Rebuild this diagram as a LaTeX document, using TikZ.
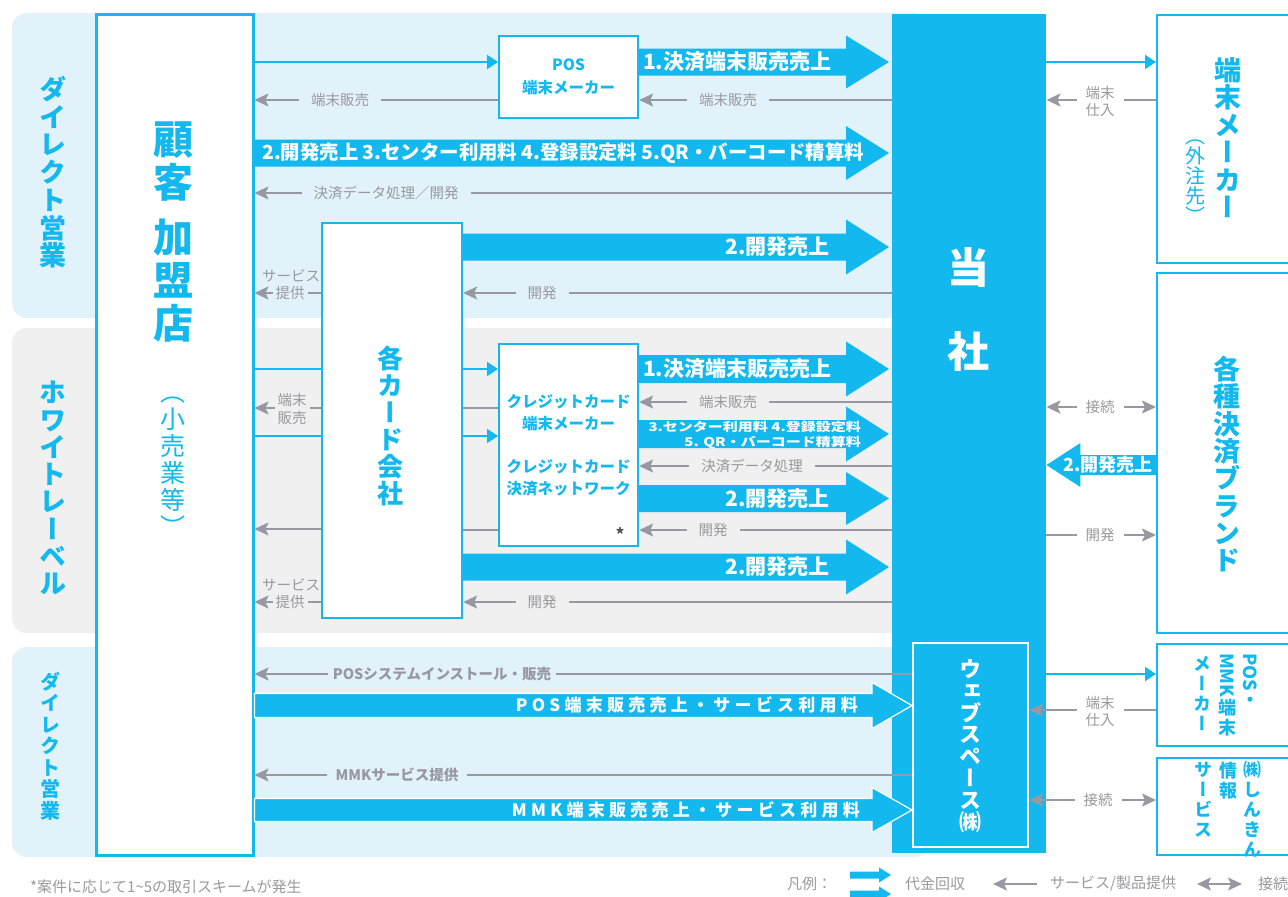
\documentclass[tikz,border=0pt]{standalone}
\usepackage{fontspec}
\setmainfont{Noto Sans CJK JP}
\newfontfamily\vjp[RawFeature=+vert]{Noto Sans CJK JP}
\usetikzlibrary{arrows.meta,calc}
\definecolor{cblue}{RGB}{18,184,238}
\definecolor{bandblue}{RGB}{226,242,250}
\definecolor{bandgray}{RGB}{240,240,240}
\definecolor{lgray}{RGB}{152,152,162}
\definecolor{tgray}{RGB}{152,152,160}
\definecolor{dgray}{RGB}{80,80,85}
\newcommand\fatarrow[6][]{%
  \path[fill=cblue,#1] let \p1=#2, \p2=#3, \n1={\x2-sign(\x2-\x1)*#6} in
    ({\x1},{\y1+#4}) -- (\n1,{\y1+#4}) -- (\n1,{\y1+#5}) -- ({\x2},{\y1})
    -- (\n1,{\y1-#5}) -- (\n1,{\y1-#4}) -- ({\x1},{\y1-#4}) -- cycle;}
\begin{document}
\begin{tikzpicture}[x=1pt,y=-1pt,
  box/.style={draw=cblue,line width=2.2pt,fill=white,anchor=north west,inner sep=0pt},
  tarrow/.style={draw=cblue,line width=2.2pt,-{Triangle[length=11pt,width=14pt]}},
  tline/.style={draw=cblue,line width=2.2pt},
  garrow/.style={draw=lgray,line width=2pt,-{Stealth[length=14pt,width=13pt,inset=3pt]}},
  gdouble/.style={draw=lgray,line width=2pt,{Stealth[length=14pt,width=13pt,inset=3pt]}-{Stealth[length=14pt,width=13pt,inset=3pt]}},
  gline/.style={draw=lgray,line width=2pt},
  glab/.style={text=tgray,font=\fontsize{14.5}{17}\selectfont,inner xsep=12pt,inner ysep=1pt,align=center},
  ftxt/.style={text=white,font=\bfseries\fontsize{21}{21}\selectfont,inner sep=0pt},
  vt/.style={text=cblue,align=center,inner sep=0pt,anchor=north},
  legtxt/.style={text=tgray,font=\fontsize{15}{15}\selectfont,inner sep=0pt,anchor=west},
]
\useasboundingbox (0,0) rectangle (1288,897);
\clip (0,0) rectangle (1288,897);
% bands
\fill[bandblue,rounded corners=15pt] (12,13) rectangle (930,318);
\fill[bandgray,rounded corners=15pt] (12,328) rectangle (930,633);
\fill[bandblue,rounded corners=15pt] (12,647) rectangle (930,857);
% main column
\node[fill=cblue,anchor=north west,minimum width=154pt,minimum height=839pt,inner sep=0pt] (tosha) at (892,14) {};
\node[draw=white,line width=2pt,fill=cblue,anchor=north west,minimum width=115pt,minimum height=204pt,inner sep=0pt] (web) at (912,642) {};
% right boxes
\node[box,minimum width=150pt,minimum height=248pt] (tm) at (1156,14) {};
\node[box,minimum width=150pt,minimum height=360pt] (brand) at (1156,272) {};
\node[box,minimum width=150pt,minimum height=102pt] (posmmk) at (1156,643) {};
\node[box,minimum width=150pt,minimum height=97pt] (shinkin) at (1156,757) {};
% left boxes
\node[box,line width=2.5pt,minimum width=157pt,minimum height=841pt] (kyaku) at (95,13) {};
\node[box,minimum width=139pt,minimum height=82pt,align=center,text=cblue,font=\bfseries\fontsize{15.5}{23}\selectfont] (posbox) at (498,35) {POS\\端末メーカー};
\node[box,minimum width=140pt,minimum height=395pt] (card) at (321,222) {};
\node[box,minimum width=139pt,minimum height=202pt,align=center,text=cblue,font=\bfseries\fontsize{15.5}{22}\selectfont] (cc) at (498,343) {クレジットカード\\端末メーカー\\[21pt]クレジットカード\\決済ネットワーク};
\node[text=dgray,font=\bfseries\fontsize{16}{16}\selectfont,inner sep=0pt] (ast) at (620,534) {*};

% ---------- top band
\draw[tarrow] (kyaku.east|-0,62) -- (posbox.west|-0,62);
\fatarrow{(posbox.east|-0,62)}{($(tosha.west|-0,62)+(-3,0)$)}{13.5pt}{26.5pt}{43pt}
\node[ftxt,anchor=west] (f1t) at (643,62) {1.決済端末販売売上};
\draw[garrow] (tosha.west|-0,100) -- (posbox.east|-0,100);
\node[glab,fill=bandblue] (l1) at (728,100) {端末販売};
\draw[garrow] (posbox.west|-0,100) -- (kyaku.east|-0,100);
\node[glab,fill=bandblue] (l2) at (340,100) {端末販売};
\fatarrow{(kyaku.east|-0,153)}{($(tosha.west|-0,153)+(-3,0)$)}{13.5pt}{27pt}{43pt}
\node[ftxt,font=\bfseries\fontsize{19.4}{20}\selectfont,anchor=west] (f2t) at (262,153) {2.開発売上 3.センター利用料 4.登録設定料 5.QR・バーコード精算料};
\draw[garrow] (tosha.west|-0,193) -- (kyaku.east|-0,193);
\node[glab,fill=bandblue] (l3) at (386,193) {決済データ処理／開発};
\fatarrow{(card.east|-0,247)}{($(tosha.west|-0,247)+(-3,0)$)}{13.5pt}{27.5pt}{43pt}
\node[ftxt,anchor=east] (f3t) at (830,247) {2.開発売上};
\draw[garrow] (tosha.west|-0,293) -- (card.east|-0,293);
\node[glab,fill=bandblue] (l4) at (542,293) {開発};
\draw[garrow] (card.west|-0,293) -- (kyaku.east|-0,293);
\node[glab,inner xsep=0pt] (l5a) at (291,276) {サービス};
\node[glab,fill=bandblue,inner xsep=3pt] (l5b) at (290,293) {提供};

% ---------- middle band
\draw[tline] (kyaku.east|-0,369) -- (card.west|-0,369);
\draw[tarrow] (card.east|-0,369) -- (cc.west|-0,369);
\draw[tline] (kyaku.east|-0,436) -- (card.west|-0,436);
\draw[tarrow] (card.east|-0,436) -- (cc.west|-0,436);
\draw[garrow] (card.west|-0,408) -- (kyaku.east|-0,408);
\node[glab,fill=bandgray,inner xsep=3pt,font=\fontsize{14.5}{18}\selectfont] (l6) at (292,409) {端末\\販売};
\draw[gline] (cc.west|-0,408) -- (card.east|-0,408);
\draw[garrow] (card.west|-0,529) -- (kyaku.east|-0,529);
\draw[gline] (cc.west|-0,530) -- (card.east|-0,530);
\fatarrow{(cc.east|-0,369)}{($(tosha.west|-0,369)+(-3,0)$)}{14pt}{27.5pt}{43pt}
\node[ftxt,anchor=west] (f4t) at (643,369) {1.決済端末販売売上};
\draw[garrow] (tosha.west|-0,402) -- (cc.east|-0,402);
\node[glab,fill=bandgray] (l7) at (728,402) {端末販売};
\fatarrow{(cc.east|-0,434)}{($(tosha.west|-0,434)+(-3,0)$)}{14pt}{27.5pt}{43pt}
\node[text=white,font=\bfseries\fontsize{12}{15}\selectfont,align=right,anchor=east,inner sep=0pt] (f5t) at (861,435) {\scalebox{1.25}[1]{3.センター利用料 4.登録設定料}\\\scalebox{1.25}[1]{5. QR・バーコード精算料}};
\draw[garrow] (tosha.west|-0,466) -- (cc.east|-0,466);
\node[glab,fill=bandgray] (l8) at (752,466) {決済データ処理};
\fatarrow{(cc.east|-0,498.5)}{($(tosha.west|-0,498.5)+(-3,0)$)}{13.5pt}{26.5pt}{43pt}
\node[ftxt,anchor=east] (f6t) at (830,499) {2.開発売上};
\draw[garrow] (tosha.west|-0,530) -- (cc.east|-0,530);
\node[glab,fill=bandgray] (l9) at (713,530) {開発};
\fatarrow{(card.east|-0,567)}{($(tosha.west|-0,567)+(-3,0)$)}{13.5pt}{27.5pt}{43pt}
\node[ftxt,anchor=east] (f7t) at (830,567) {2.開発売上};
\draw[garrow] (tosha.west|-0,602) -- (card.east|-0,602);
\node[glab,fill=bandgray] (l10) at (542,602) {開発};
\draw[garrow] (card.west|-0,602) -- (kyaku.east|-0,602);
\node[glab,inner xsep=0pt] (l11a) at (291,585) {サービス};
\node[glab,fill=bandgray,inner xsep=3pt] (l11b) at (290,602) {提供};

% ---------- bottom band
\draw[garrow] (web.west|-0,674) -- (kyaku.east|-0,674);
\node[glab,fill=bandblue,inner xsep=5pt,font=\bfseries\fontsize{14.5}{17}\selectfont] (l12) at (442,674) {POSシステムインストール・販売};
\fatarrow[draw=white,line width=1.2pt]{(kyaku.east|-0,705.5)}{(web.west|-0,705.5)}{12pt}{23pt}{40pt}
\node[text=white,font=\bfseries\fontsize{17}{17}\selectfont\addfontfeature{LetterSpace=25},anchor=east,inner sep=0pt] (f8t) at (858,705) {POS端末販売売上・サービス利用料};
\draw[garrow] (web.west|-0,775) -- (kyaku.east|-0,775);
\node[glab,fill=bandblue,inner xsep=9pt,font=\bfseries\fontsize{14.5}{17}\selectfont] (l13) at (397,775) {MMKサービス提供};
\fatarrow[draw=white,line width=1.2pt]{(kyaku.east|-0,810)}{(web.west|-0,810)}{11.5pt}{22.5pt}{40pt}
\node[text=white,font=\bfseries\fontsize{17}{17}\selectfont\addfontfeature{LetterSpace=25},anchor=east,inner sep=0pt] (f9t) at (860,810) {MMK端末販売売上・サービス利用料};

% ---------- right side
\draw[tarrow] (tosha.east|-0,62) -- (tm.west|-0,62);
\draw[garrow] (tm.west|-0,100) -- (tosha.east|-0,100);
\node[glab,fill=white,inner xsep=9pt] (r1) at (1100,101) {端末\\仕入};
\draw[gdouble] (tosha.east|-0,407) -- (brand.west|-0,407);
\node[glab,fill=white,inner xsep=9pt] (r2) at (1100,407) {接続};
\fatarrow{(brand.west|-0,465)}{(tosha.east|-0,465)}{10pt}{22pt}{34pt}
\node[ftxt,font=\bfseries\fontsize{18}{18}\selectfont,anchor=east] (f10t) at (1153,465) {2.開発売上};
\draw[garrow] (tosha.east|-0,535) -- (brand.west|-0,535);
\node[glab,fill=white,inner xsep=9pt] (r3) at (1100,535) {開発};
\draw[tarrow] (tosha.east|-0,674) -- (posmmk.west|-0,674);
\draw[garrow] (posmmk.west|-0,710) -- (web.east|-0,710);
\node[glab,fill=white,inner xsep=9pt] (r4) at (1100,711) {端末\\仕入};
\draw[gdouble] (web.east|-0,800) -- (shinkin.west|-0,800);
\node[glab,fill=white,inner xsep=9pt] (r5) at (1098,800) {接続};

% ---------- vertical texts
\node[vt,font={\vjp\bfseries\fontsize{27}{27.7}\selectfont\lineskiplimit=-100pt}] (lab1) at (53,76) {ダ\\イ\\レ\\ク\\ト\\営\\業};
\node[vt,font={\vjp\bfseries\fontsize{27}{27.3}\selectfont\lineskiplimit=-100pt}] (lab2) at (53,381) {ホ\\ワ\\イ\\ト\\レ\\ー\\ベ\\ル};
\node[vt,font={\vjp\bfseries\fontsize{20}{21.5}\selectfont\lineskiplimit=-100pt}] (lab3) at (50,672) {ダ\\イ\\レ\\ク\\ト\\営\\業};
\node[vt,font={\vjp\bfseries\fontsize{40}{43}\selectfont\lineskiplimit=-100pt}] (kyakuA) at (173,122) {顧\\客};
\node[vt,font={\vjp\bfseries\fontsize{40}{43}\selectfont\lineskiplimit=-100pt}] (kyakuB) at (173,219) {加\\盟\\店};
\node[vt,font={\vjp\fontsize{25}{27}\selectfont\lineskiplimit=-100pt}] (kyakuC) at (173,397) {（\\小\\売\\業\\等\\）};
\node[vt,font={\vjp\bfseries\fontsize{26}{27}\selectfont\lineskiplimit=-100pt}] (cardT) at (390,346) {各\\カ\\ー\\ド\\会\\社};
\node[vt,text=white,font={\vjp\bfseries\fontsize{42}{84}\selectfont}] (toshaT) at (968,247) {当\\社};
\node[vt,text=white,font={\vjp\bfseries\fontsize{22}{21.9}\selectfont\lineskiplimit=-100pt}] (webT) at (970,659) {ウ\\ェ\\ブ\\ス\\ペ\\ー\\ス\\㈱};
\node[vt,font={\vjp\bfseries\fontsize{27}{27.5}\selectfont\lineskiplimit=-100pt}] (tmT) at (1228,57) {端\\末\\メ\\ー\\カ\\ー};
\node[vt,font={\vjp\fontsize{20}{20}\selectfont\lineskiplimit=-100pt}] (tmS) at (1195,140) {（\\外\\注\\先\\）};
\node[vt,font={\vjp\bfseries\fontsize{27}{27.3}\selectfont\lineskiplimit=-100pt}] (brandT) at (1227,356) {各\\種\\決\\済\\ブ\\ラ\\ン\\ド};
\node[vt,font=\bfseries\fontsize{18}{18}\selectfont] (pm1) at (1250,653) {\rotatebox{-90}{POS}};
\node[text=cblue,inner sep=0pt,font=\vjp\bfseries\fontsize{18}{18}\selectfont] (pm1b) at (1250,702) {・};
\node[vt,font=\bfseries\fontsize{18}{18}\selectfont] (pm2) at (1227,653) {\rotatebox{-90}{MMK}};
\node[vt,font={\vjp\bfseries\fontsize{18}{20}\selectfont\lineskiplimit=-100pt}] (pm2b) at (1227,699) {端\\末};
\node[vt,font={\vjp\bfseries\fontsize{18}{20}\selectfont\lineskiplimit=-100pt}] (pm3) at (1202,656) {メ\\ー\\カ\\ー};
\node[vt,font={\vjp\bfseries\fontsize{18}{20}\selectfont\lineskiplimit=-100pt}] (sk1) at (1252,761) {㈱\\し\\ん\\き\\ん};
\node[vt,font={\vjp\bfseries\fontsize{18}{20}\selectfont\lineskiplimit=-100pt}] (sk2) at (1228,762) {情\\報};
\node[vt,font={\vjp\bfseries\fontsize{18}{20}\selectfont\lineskiplimit=-100pt}] (sk3) at (1203,762) {サ\\ー\\ビ\\ス};

% ---------- legend
\node[legtxt] (note) at (30,887) {*案件に応じて1\textasciitilde5の取引スキームが発生};
\node[legtxt] (hanrei) at (787,884) {凡例：};
\coordinate (lg1s) at (850,875); \coordinate (lg1e) at (891,875);
\coordinate (lg2s) at (850,894); \coordinate (lg2e) at (891,894);
\fatarrow{(lg1s)}{(lg1e)}{3.5pt}{7.5pt}{12pt}
\fatarrow{(lg2s)}{(lg2e)}{3.5pt}{7.5pt}{12pt}
\node[legtxt] (leg1) at (905,884) {代金回収};
\coordinate (lg3s) at (1037,884); \coordinate (lg3e) at (993,884);
\draw[garrow] (lg3s) -- (lg3e);
\node[legtxt] (leg2) at (1050,884) {サービス/製品提供};
\coordinate (lg4s) at (1197,884); \coordinate (lg4e) at (1242,884);
\draw[gdouble] (lg4s) -- (lg4e);
\node[legtxt] (leg3) at (1258,884) {接続};
\end{tikzpicture}
\end{document}
